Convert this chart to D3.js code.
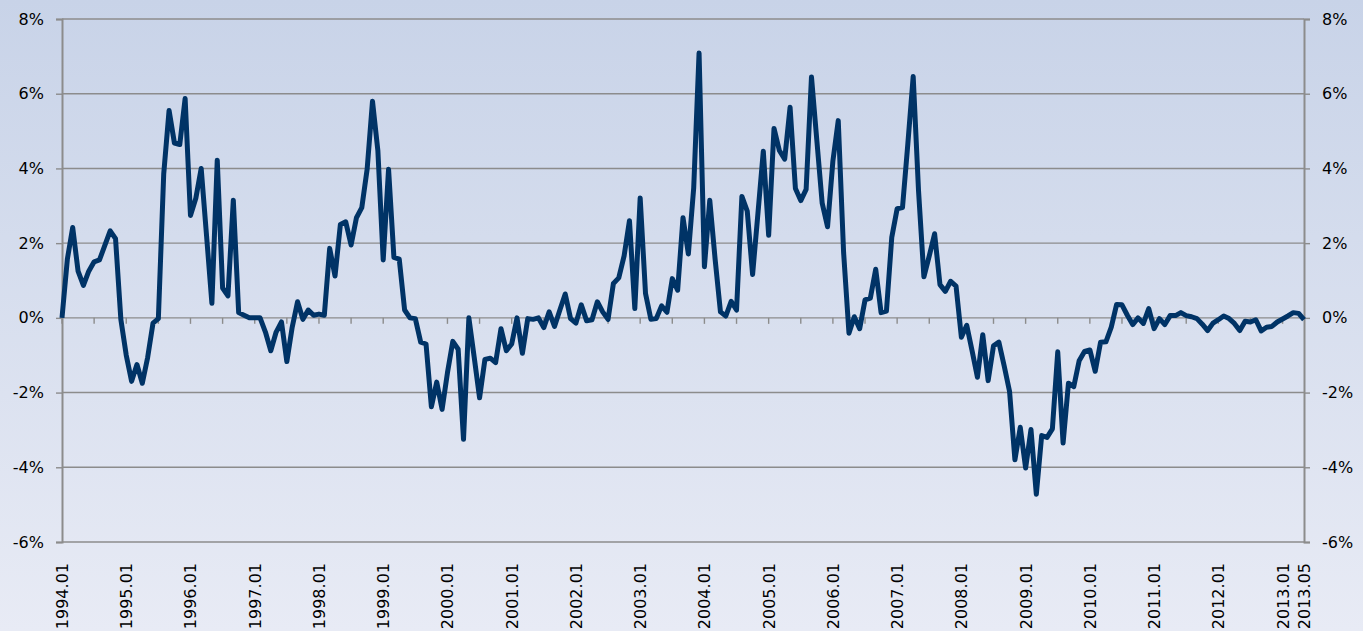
<!DOCTYPE html>
<html>
<head>
<meta charset="utf-8">
<script src="https://cdn.jsdelivr.net/npm/d3@7"></script>
<style>
  body { margin: 0; }
  svg { display: block; }
  text { font-family: "DejaVu Sans", sans-serif; fill: #000; }
</style>
</head>
<body>
<script>
// monthly values, 1994.01 .. 2013.05 (percent)
const values = [
  0.0, 1.57, 2.42, 1.25, 0.87, 1.25, 1.5, 1.55, 1.94, 2.33, 2.12, -0.05,
  -1.0, -1.7, -1.25, -1.75, -1.06, -0.14, -0.02, 3.85, 5.55, 4.68, 4.64, 5.87,
  2.74, 3.2, 4.0, 2.2, 0.39, 4.22, 0.8, 0.59, 3.15, 0.14, 0.07, 0.0,
  0.0, 0.0, -0.38, -0.88, -0.38, -0.11, -1.17, -0.25, 0.43, -0.04, 0.21, 0.07,
  0.1, 0.07, 1.86, 1.12, 2.5, 2.57, 1.95, 2.68, 2.95, 3.98, 5.8, 4.48,
  1.55, 3.98, 1.62, 1.57, 0.21, 0.0, -0.02, -0.65, -0.7, -2.38, -1.72, -2.45,
  -1.47, -0.63, -0.84, -3.25, 0.0, -1.06, -2.14, -1.11, -1.08, -1.2, -0.29, -0.88,
  -0.7, 0.0, -0.95, -0.02, -0.04, 0.0, -0.26, 0.16, -0.23, 0.21, 0.64, -0.02,
  -0.14, 0.35, -0.08, -0.05, 0.43, 0.16, -0.04, 0.92, 1.07, 1.66, 2.6, 0.25,
  3.21, 0.65, -0.04, -0.02, 0.32, 0.15, 1.05, 0.74, 2.68, 1.71, 3.48, 7.09,
  1.37, 3.15, 1.57, 0.16, 0.05, 0.44, 0.21, 3.25, 2.86, 1.16, 2.8, 4.46,
  2.21, 5.07, 4.48, 4.25, 5.64, 3.46, 3.14, 3.44, 6.45, 4.75, 3.07, 2.44,
  4.2, 5.28, 1.75, -0.41, 0.03, -0.29, 0.48, 0.53, 1.3, 0.14, 0.18, 2.16,
  2.92, 2.95, 4.66, 6.46, 3.39, 1.1, 1.66, 2.25, 0.89, 0.71, 0.98, 0.85,
  -0.52, -0.2, -0.88, -1.59, -0.45, -1.68, -0.75, -0.65, -1.29, -1.97, -3.8, -2.93,
  -4.02, -2.99, -4.72, -3.15, -3.2, -2.97, -0.91, -3.35, -1.75, -1.84, -1.15, -0.9,
  -0.86, -1.43, -0.65, -0.64, -0.25, 0.36, 0.35, 0.07, -0.18, 0.0, -0.15, 0.25,
  -0.29, -0.02, -0.18, 0.06, 0.06, 0.14, 0.06, 0.03, -0.02, -0.17, -0.34, -0.14,
  -0.05, 0.05, -0.02, -0.15, -0.34, -0.09, -0.11, -0.05, -0.35, -0.25, -0.23, -0.11,
  -0.03, 0.05, 0.14, 0.12, -0.05
];

const startYear = 1994;
const months = values.map((d, i) =>
  (startYear + Math.floor(i / 12)) + '.' + String(i % 12 + 1).padStart(2, '0'));

const yTicks = [-6, -4, -2, 0, 2, 4, 6, 8];

const width = 1363, height = 631;
const margin = { top: 19, right: 59, bottom: 89, left: 62 };

const svg = d3.select('body').append('svg')
    .attr('width', width)
    .attr('height', height);

// background gradient
const grad = svg.append('defs').append('linearGradient')
    .attr('id', 'bg')
    .attr('x1', 0).attr('y1', 0).attr('x2', 0).attr('y2', 1);
grad.append('stop').attr('offset', '0%').attr('stop-color', '#c8d3e8');
grad.append('stop').attr('offset', '100%').attr('stop-color', '#e8ebf5');

svg.append('rect')
    .attr('width', width)
    .attr('height', height)
    .attr('fill', 'url(#bg)');

const x = d3.scaleLinear()
    .domain([0, values.length - 1])
    .range([margin.left, width - margin.right]);

const y = d3.scaleLinear()
    .domain([-6, 8])
    .range([height - margin.bottom, margin.top]);

// gridlines
svg.append('g')
  .selectAll('line')
  .data(yTicks)
  .enter()
  .append('line')
    .attr('x1', margin.left)
    .attr('x2', width - margin.right)
    .attr('y1', d => y(d))
    .attr('y2', d => y(d))
    .attr('stroke', '#8c8c8c')
    .attr('stroke-width', 1.4);

// left and right axes
const leftAxis = svg.append('g')
    .attr('transform', `translate(${margin.left},0)`)
    .call(d3.axisLeft(y).tickValues(yTicks).tickSize(6).tickPadding(12).tickFormat(d => d + '%'));

const rightAxis = svg.append('g')
    .attr('transform', `translate(${width - margin.right},0)`)
    .call(d3.axisRight(y).tickValues(yTicks).tickSize(6).tickPadding(12).tickFormat(d => d + '%'));

[leftAxis, rightAxis].forEach(g => {
  g.select('.domain').attr('stroke', '#8c8c8c').attr('stroke-width', 2);
  g.selectAll('.tick line').attr('stroke', '#8c8c8c').attr('stroke-width', 1.4);
  g.selectAll('.tick text').style('font-size', '16px').attr('fill', '#000');
});

// half-year tick marks on the zero line
const halfYear = d3.range(0, values.length, 6);
svg.append('g')
  .selectAll('line')
  .data(halfYear)
  .enter()
  .append('line')
    .attr('x1', d => x(d))
    .attr('x2', d => x(d))
    .attr('y1', y(0))
    .attr('y2', y(0) + 6)
    .attr('stroke', '#8c8c8c')
    .attr('stroke-width', 1.4);

// year labels at the bottom, rotated
const labelIdx = d3.range(0, values.length, 12).concat([values.length - 1]);
svg.append('g')
  .selectAll('text')
  .data(labelIdx)
  .enter()
  .append('text')
    .attr('transform', d => `translate(${x(d) + 6},${height - margin.bottom + 21}) rotate(-90)`)
    .attr('text-anchor', 'end')
    .style('font-size', '16px')
    .text(d => months[d]);

// the series
const line = d3.line()
    .x((d, i) => x(i))
    .y(d => y(d));

svg.append('path')
    .datum(values)
    .attr('fill', 'none')
    .attr('stroke', '#003366')
    .attr('stroke-width', 5)
    .attr('stroke-linejoin', 'round')
    .attr('d', line);
</script>
</body>
</html>
